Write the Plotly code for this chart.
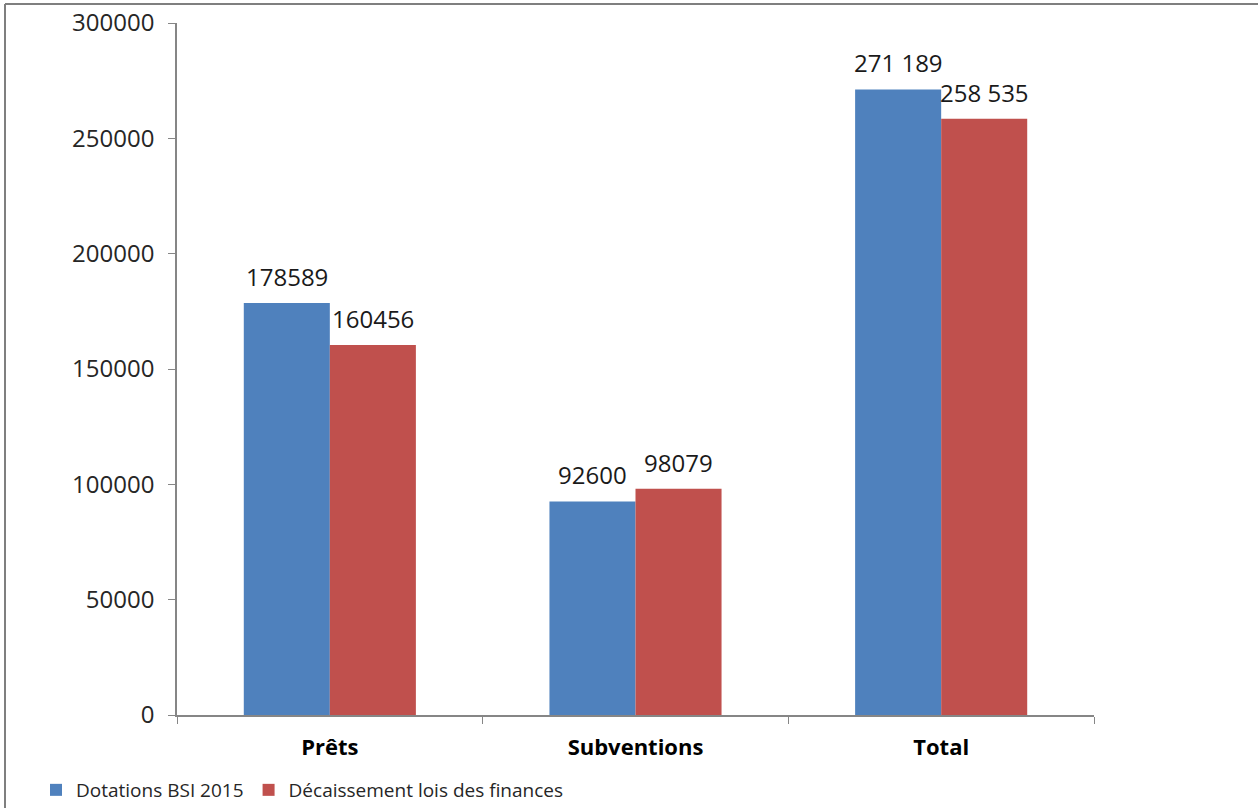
import plotly.graph_objects as go

categories = ["Prêts", "Subventions", "Total"]
dotations = [178589, 92600, 271189]
decaissement = [160456, 98079, 258535]
dotations_labels = ["178589", "92600", "271 189"]
decaissement_labels = ["160456", "98079", "258 535"]

FONT = "Open Sans, Liberation Sans, sans-serif"
W, H = 1258, 808
L, T = 177, 23
R = W - 1094
B = H - 715
pw, ph = W - L - R, H - T - B
BARGAP = 0.437
half_bar_px = (pw / len(categories)) * (1 - BARGAP) / 4

fig = go.Figure()
fig.add_trace(go.Bar(
    x=categories, y=dotations, name="Dotations BSI 2015",
    marker=dict(color="#4F81BD", line=dict(width=0)),
))
fig.add_trace(go.Bar(
    x=categories, y=decaissement, name="Décaissement lois des finances",
    marker=dict(color="#C0504D", line=dict(width=0)),
))

annotations = []
for cat, v, lab in zip(categories, dotations, dotations_labels):
    annotations.append(dict(x=cat, y=v, text=lab, showarrow=False, xanchor="center",
                            yanchor="bottom", xshift=-half_bar_px, yshift=8,
                            font=dict(size=24, color="#1a1a1a", family=FONT)))
for cat, v, lab in zip(categories, decaissement, decaissement_labels):
    annotations.append(dict(x=cat, y=v, text=lab, showarrow=False, xanchor="center",
                            yanchor="bottom", xshift=half_bar_px, yshift=8,
                            font=dict(size=24, color="#1a1a1a", family=FONT)))

def px_x(p):
    return (p - L) / pw

def px_y(p):
    return (H - B - p) / ph

fig.update_layout(
    width=W, height=H,
    margin=dict(l=L, r=R, t=T, b=B, autoexpand=False),
    paper_bgcolor="white", plot_bgcolor="white",
    barmode="group", bargap=BARGAP, bargroupgap=0,
    font=dict(family=FONT, color="#262626", size=19),
    showlegend=True,
    legend=dict(orientation="h", x=px_x(36), y=px_y(771), xanchor="left", yanchor="top",
                font=dict(size=19, family=FONT, color="#262626"),
                itemwidth=30, traceorder="normal", bgcolor="rgba(0,0,0,0)"),
    xaxis=dict(showline=True, linecolor="#868686", linewidth=1.5,
               ticks="outside", tickson="boundaries", ticklen=7, tickcolor="#868686",
               tickfont=dict(size=22, family=FONT, color="#000000", weight="bold"),
               ticklabelstandoff=12,
               showgrid=False, zeroline=False),
    yaxis=dict(range=[0, 300000], dtick=50000, tickformat="d",
               showline=True, linecolor="#868686", linewidth=1.5,
               ticks="outside", ticklen=7, tickcolor="#868686",
               tickfont=dict(size=24, family=FONT, color="#262626"),
               ticklabelstandoff=9, ticklabeloverflow="allow",
               showgrid=False, zeroline=False),
    annotations=annotations,
    shapes=[
        dict(type="line", xref="paper", yref="paper", x0=px_x(5), x1=px_x(1258), y0=px_y(4), y1=px_y(4),
             line=dict(color="#7F7F7F", width=2)),
        dict(type="line", xref="paper", yref="paper", x0=px_x(5), x1=px_x(5), y0=px_y(4), y1=px_y(808),
             line=dict(color="#7F7F7F", width=2)),
    ],
)

fig.write_html(
    "out.html",
    config={"displayModeBar": False},
    post_script="document.body.style.margin='0';document.body.style.overflow='hidden';",
)
